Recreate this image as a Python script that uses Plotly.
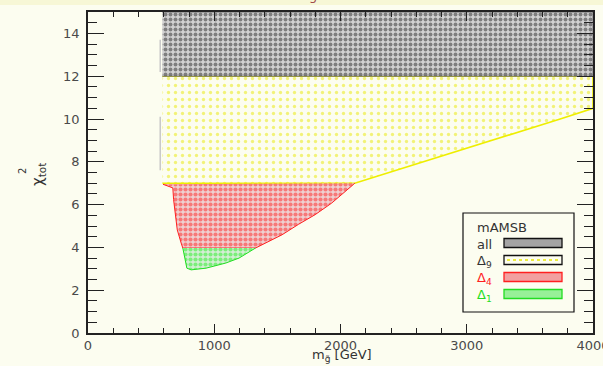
import plotly.graph_objects as go

# Region boundaries: gluino mass [GeV] vs chi^2_tot
all_m = [588, 4000, 4000, 588]
all_chi2 = [12.0, 12.0, 15.0, 15.0]

delta9_m = [590, 4000, 4000, 3740, 2113, 590]
delta9_chi2 = [12.0, 12.0, 10.5, 10.0, 7.0, 7.0]

delta4_m = [594, 672, 678, 691, 707, 738, 751, 1327, 1537, 1668, 1799, 1930, 2061, 2100, 2113]
delta4_chi2 = [6.95, 6.78, 6.23, 5.6, 4.82, 4.2, 3.97, 3.97, 4.59, 5.08, 5.53, 6.07, 6.7, 6.93, 7.0]

delta1_m = [751, 770, 783, 817, 935, 1092, 1196, 1327]
delta1_chi2 = [3.97, 3.42, 3.03, 2.95, 3.03, 3.27, 3.5, 3.97]

# faint grey edge left of the bands
edge_m = [572, 572, None, 572, 572]
edge_chi2 = [12.2, 13.7, None, 7.6, 10.1]

x_ticks = [0, 1000, 2000, 3000, 4000]
y_ticks = [0, 2, 4, 6, 8, 10, 12, 14]

legend_title = "mAMSB"
legend_labels = ["all", "Δ<sub>9</sub>", "Δ<sub>4</sub>", "Δ<sub>1</sub>"]
legend_text_colors = ["#333333", "#333333", "#ff2020", "#22dd22"]
legend_line_colors = ["#111111", "#111111", "#ff2020", "#22dd22"]
legend_fill_colors = ["#a4a4a4", "rgba(0,0,0,0)", "#f2a0a0", "#98f098"]

BG = "#fcfdf0"
FONT = "DejaVu Sans"
AX = "#222222"

# plot frame in pixels
L, R, T, B = 88, 593, 12, 333


def px_x(p):
    return (p - L) / (R - L)


def px_y(p):
    return (B - p) / (B - T)


fig = go.Figure()

fig.add_trace(go.Scatter(
    x=delta9_m, y=delta9_chi2, fill="toself", mode="lines",
    line=dict(color="#eeee00", width=1.6),
    fillcolor="rgba(0,0,0,0)",
    fillpattern=dict(shape=".", fgcolor="#e8e800", bgcolor="rgba(0,0,0,0)",
                     size=7, solidity=0.18),
    hoverinfo="skip"))

fig.add_trace(go.Scatter(
    x=all_m, y=all_chi2, fill="toself", mode="lines",
    line=dict(color="#555555", width=0.8),
    fillpattern=dict(shape=".", fgcolor="#2a2a2a", bgcolor="#d2d2d2",
                     size=5, solidity=0.5),
    hoverinfo="skip"))

fig.add_trace(go.Scatter(
    x=delta4_m, y=delta4_chi2, fill="toself", mode="lines",
    line=dict(color="#ff2020", width=1),
    fillpattern=dict(shape=".", fgcolor="#ff2020", bgcolor="#eed0d0",
                     size=5, solidity=0.55),
    hoverinfo="skip"))

fig.add_trace(go.Scatter(
    x=delta1_m, y=delta1_chi2, fill="toself", mode="lines",
    line=dict(color="#22dd22", width=1),
    fillpattern=dict(shape=".", fgcolor="#22ee22", bgcolor="#d4eed4",
                     size=5, solidity=0.55),
    hoverinfo="skip"))

fig.add_trace(go.Scatter(
    x=edge_m, y=edge_chi2, mode="lines",
    line=dict(color="#c8c8c8", width=1.5), hoverinfo="skip"))

axis_common = dict(
    showgrid=False, zeroline=False, showline=True, linecolor=AX, linewidth=1.5,
    mirror="allticks", ticks="inside", tickcolor=AX, tickwidth=1.3,
    ticklabeloverflow="allow", automargin=False,
    tickfont=dict(family=FONT, size=13, color="#4a4a4a"),
)

fig.update_xaxes(range=[0, 4000], tickvals=x_ticks, ticklen=9,
                 minor=dict(dtick=200, ticks="inside", ticklen=5,
                            tickcolor=AX, tickwidth=1),
                 **axis_common)
fig.update_yaxes(range=[0, 15], tickvals=y_ticks, ticklen=16,
                 ticklabelstandoff=4,
                 minor=dict(dtick=0.5, ticks="inside", ticklen=9,
                            tickcolor=AX, tickwidth=1),
                 **axis_common)

shapes = [
    # pale band across the top of the page
    dict(type="rect", xref="paper", yref="paper", layer="below",
         x0=px_x(0), x1=px_x(603), y0=px_y(5), y1=px_y(-2),
         fillcolor="#f7f7d6", line=dict(width=0)),
    # legend frame
    dict(type="rect", xref="paper", yref="paper",
         x0=px_x(463), x1=px_x(574), y0=px_y(312), y1=px_y(213),
         fillcolor="rgba(0,0,0,0)", line=dict(color="#111111", width=1.2)),
]

annotations = [
    dict(text=legend_title, xref="paper", yref="paper", x=px_x(475), y=px_y(227),
         xanchor="left", yanchor="middle", showarrow=False,
         font=dict(family=FONT, size=13, color="#333333")),
]

rows_y = [243, 260, 277, 294]
for label, tcol, lcol, fcol, yc in zip(legend_labels, legend_text_colors,
                                       legend_line_colors, legend_fill_colors, rows_y):
    annotations.append(dict(text=label, xref="paper", yref="paper",
                            x=px_x(475), y=px_y(yc + 1), xanchor="left",
                            yanchor="middle", showarrow=False,
                            font=dict(family=FONT, size=13, color=tcol)))
    shapes.append(dict(type="rect", xref="paper", yref="paper",
                       x0=px_x(504), x1=px_x(562), y0=px_y(yc + 4.5), y1=px_y(yc - 4.5),
                       fillcolor=fcol, line=dict(color=lcol, width=1.3)))
    if fcol.startswith("rgba"):
        shapes.append(dict(type="line", xref="paper", yref="paper",
                           x0=px_x(507), x1=px_x(559), y0=px_y(yc), y1=px_y(yc),
                           line=dict(color="#e8e800", width=1.5, dash="dot")))

# axis titles
annotations += [
    dict(text="m<sub>g̃</sub> [GeV]", xref="paper", yref="paper",
         x=px_x(342), y=px_y(355), xanchor="center", yanchor="middle",
         showarrow=False, font=dict(family=FONT, size=13, color="#333333")),
    dict(text="χ<sub>tot</sub>", xref="paper", yref="paper",
         x=px_x(39), y=px_y(175), xanchor="center", yanchor="middle",
         textangle=-90, showarrow=False,
         font=dict(family=FONT, size=15, color="#333333")),
    dict(text="2", xref="paper", yref="paper",
         x=px_x(22), y=px_y(171), xanchor="center", yanchor="middle",
         textangle=-90, showarrow=False,
         font=dict(family=FONT, size=10, color="#333333")),
    # title clipped by the top edge of the page
    dict(text="g", xref="paper", yref="paper",
         x=px_x(313), y=px_y(-5), xanchor="center", yanchor="middle",
         showarrow=False, font=dict(family=FONT, size=13, color="#a04848")),
]

fig.update_layout(
    width=603, height=366,
    margin=dict(l=L, r=603 - R, t=T, b=366 - B, autoexpand=False),
    paper_bgcolor=BG, plot_bgcolor=BG,
    showlegend=False,
    shapes=shapes, annotations=annotations,
    font=dict(family=FONT, color="#333333"),
)

fig.write_html("out.html")
